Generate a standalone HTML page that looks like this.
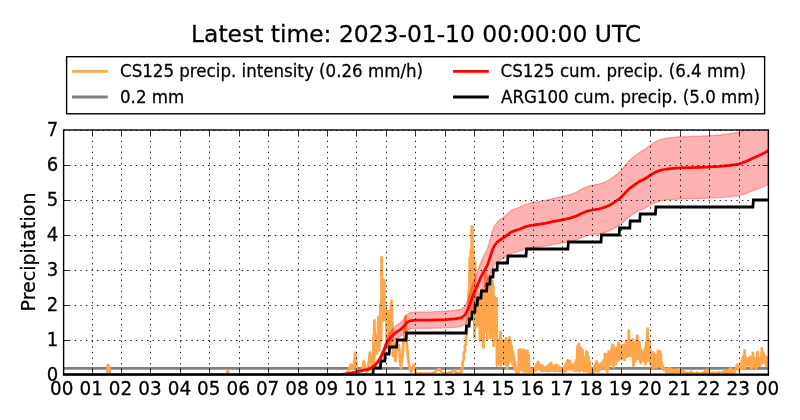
<!DOCTYPE html>
<html><head><meta charset="utf-8"><title>Precipitation</title>
<style>html,body{margin:0;padding:0;background:#fff;overflow:hidden}svg{display:block;will-change:transform}</style>
</head><body>
<svg width="800" height="420" viewBox="0 0 800 420">
<defs><clipPath id="ax"><rect x="63.6" y="130.0" width="704.8" height="245.0"/></clipPath></defs>
<rect width="800" height="420" fill="#fff"/>
<g clip-path="url(#ax)" fill="none" stroke-linejoin="round">
<line x1="63.6" x2="768.4" y1="368.4" y2="368.4" stroke="#808080" stroke-width="2.9"/>
<polyline points="63.6,374.6 107.3,374.6 108.0,364.8 109.2,367.5 110.0,374.6 226.8,374.6 227.8,370.8 228.8,374.6 344.0,374.6 346.0,374.0 349.0,370.0 350.9,364.5 352.5,369.0 353.8,366.0 355.3,352.7 356.8,370.0 358.0,372.0 361.0,371.5 362.5,368.0 363.8,361.1 365.0,366.0 366.5,372.0 368.0,371.0 369.0,360.0 370.0,352.7 371.0,358.0 372.0,366.0 372.3,357.9 372.7,368.2 373.0,369.0 373.7,335.0 374.1,368.0 374.4,320.4 375.0,353.1 375.4,335.5 375.9,352.5 376.3,343.6 376.7,353.5 377.1,347.5 377.5,351.8 378.0,328.9 378.4,317.0 379.0,349.9 379.4,330.0 379.9,345.7 380.5,304.5 381.1,340.6 381.6,257.4 382.2,320.2 382.5,289.5 383.1,320.9 383.6,320.1 384.0,317.8 384.3,280.4 384.8,319.7 385.4,308.0 385.8,319.5 386.3,311.0 386.9,344.7 387.3,311.8 387.8,347.8 388.2,311.3 388.6,343.3 389.0,311.6 389.5,347.8 390.0,312.8 390.5,343.6 391.0,305.5 391.6,300.9 391.9,347.9 392.5,322.5 393.0,356.0 393.5,341.5 394.0,352.8 394.5,346.8 395.1,357.5 395.6,361.3 396.1,346.5 396.8,350.5 397.2,346.4 398.0,346.0 399.0,345.0 400.0,360.0 400.8,368.0 402.5,355.0 404.0,338.0 405.6,316.3 406.5,340.0 407.5,352.0 409.0,365.0 411.0,372.0 412.3,369.0 413.5,364.9 414.8,369.0 416.0,373.5 432.0,373.7 435.0,372.0 437.5,370.0 439.0,368.9 440.5,370.5 442.0,372.5 444.0,373.7 447.0,373.7 449.0,372.5 450.5,373.0 452.0,371.5 454.5,370.4 456.0,372.5 457.5,373.5 459.0,373.5 460.1,373.5 461.1,372.5 461.6,369.0 462.8,367.5 462.6,362.0 463.9,359.0 463.7,353.0 465.1,351.0 464.8,346.0 466.1,344.0 465.8,338.0 467.0,333.0 466.7,326.0 467.9,319.0 467.6,311.0 468.8,303.0 468.5,297.0 468.9,290.0 469.3,300.0 469.8,258.0 470.3,310.0 470.8,250.0 471.3,296.0 471.8,226.4 472.5,227.2 472.9,290.0 473.3,250.0 473.7,316.0 474.2,262.0 474.5,337.6 474.9,262.0 475.4,320.0 475.8,300.0 476.3,327.0 476.8,300.5 477.4,323.6 477.8,301.8 478.2,324.9 478.7,300.8 479.1,321.5 479.6,298.9 480.0,340.5 480.5,293.8 480.9,338.3 481.4,291.2 481.8,338.5 482.3,290.6 483.0,334.1 483.5,347.6 484.0,294.1 484.6,331.7 485.1,287.5 485.5,272.4 486.1,331.6 486.7,278.9 487.3,339.3 487.9,277.8 488.4,328.1 488.8,278.8 489.2,331.2 489.8,290.0 490.2,277.9 490.5,338.3 490.9,283.8 491.3,336.3 491.8,283.9 492.1,328.3 492.5,280.9 492.9,335.5 493.2,286.5 493.5,346.0 493.7,297.5 494.1,339.0 494.7,297.2 495.2,339.2 495.6,301.8 496.0,333.5 496.5,298.4 497.0,365.6 497.3,340.7 497.9,360.2 498.6,340.2 499.1,363.7 499.6,339.8 499.9,364.8 500.5,332.0 500.8,365.5 501.2,341.2 501.8,362.1 502.2,340.2 502.6,359.9 503.2,340.4 503.7,360.1 504.1,342.0 504.6,364.0 505.0,340.7 505.5,364.1 506.0,338.5 506.7,366.5 507.0,368.6 507.3,341.7 507.7,365.3 508.2,340.2 508.6,363.4 509.2,340.5 509.5,337.5 510.3,360.9 510.7,340.8 511.1,360.2 511.7,346.0 512.4,363.5 513.0,352.2 513.6,365.8 514.1,357.5 514.7,368.3 515.1,362.1 515.6,370.5 516.1,367.3 516.5,372.5 516.8,371.2 517.5,373.5 518.5,373.0 519.0,349.9 519.4,369.2 519.9,349.7 520.5,370.0 521.0,349.8 521.4,368.0 521.9,350.4 522.4,368.4 523.0,351.1 523.4,371.3 523.9,350.0 524.4,368.0 524.8,350.8 525.4,372.1 525.9,353.5 526.2,350.9 527.0,370.7 527.6,351.1 528.1,371.6 528.6,355.0 529.2,369.0 529.8,371.8 530.3,369.4 531.0,371.9 531.4,369.9 531.9,371.7 532.5,370.3 532.9,371.7 533.5,369.7 534.1,371.2 534.5,368.2 535.2,370.7 535.6,366.5 536.1,370.1 536.8,364.1 537.4,368.1 537.8,362.4 538.0,361.9 538.3,368.2 538.8,363.3 539.2,369.2 539.6,364.8 540.1,369.2 540.6,365.3 541.0,370.2 541.5,365.6 542.0,370.4 542.3,365.9 542.8,370.9 543.3,366.3 543.8,370.9 544.2,367.3 544.8,370.7 545.4,367.9 546.1,370.4 546.5,367.6 546.9,370.7 547.2,366.5 547.8,370.9 548.3,365.7 548.7,370.7 549.1,364.9 549.8,370.8 550.3,363.9 550.8,370.3 551.2,362.9 551.8,369.9 552.3,365.2 552.9,370.7 553.3,366.3 553.6,370.7 554.2,366.2 554.7,370.9 555.0,365.5 555.7,370.9 556.0,364.9 556.8,370.1 557.2,365.3 557.8,370.7 558.1,366.0 558.7,370.5 559.2,367.4 559.7,371.1 560.2,368.6 560.8,371.1 561.3,369.0 561.7,370.9 562.2,369.5 562.6,371.0 563.0,368.8 563.4,371.4 563.7,368.0 564.1,370.6 564.6,366.8 565.0,371.4 565.6,365.0 566.0,371.0 566.5,362.9 566.9,369.0 567.5,360.4 567.7,368.7 568.2,361.5 568.5,368.2 569.1,361.0 569.6,369.5 570.0,361.1 570.5,368.9 571.1,364.0 571.5,368.9 572.1,365.7 572.6,369.6 573.1,365.3 573.7,370.0 574.2,364.5 574.7,370.8 575.2,362.8 575.9,370.6 576.3,360.2 576.9,368.9 577.5,346.5 578.0,370.7 578.5,345.2 579.0,343.9 579.3,368.1 579.7,347.7 580.1,371.0 580.7,347.8 581.1,369.2 581.5,350.0 581.9,370.0 582.5,350.0 583.1,369.9 583.6,358.4 584.1,371.2 584.5,358.9 584.9,369.4 585.4,357.4 585.8,369.1 586.3,353.5 586.5,351.4 586.7,371.4 587.3,352.3 588.0,368.6 588.5,356.6 588.9,371.7 589.6,361.9 590.0,372.0 590.5,368.2 590.8,372.6 591.3,371.7 591.8,372.9 592.0,373.0 592.3,372.7 592.7,373.4 593.2,372.6 593.5,372.2 594.0,369.2 594.3,371.3 594.8,365.4 595.2,370.4 595.5,364.1 596.0,370.7 596.5,361.4 596.9,371.2 597.4,363.4 598.0,371.1 598.6,364.9 599.1,371.0 599.7,366.0 600.2,368.0 600.6,363.9 601.3,367.3 601.7,363.1 602.3,367.9 602.8,362.6 603.2,367.4 603.8,359.9 604.4,365.6 605.0,353.9 605.5,368.2 606.1,355.2 606.5,369.9 607.0,356.8 607.2,372.1 607.5,354.1 608.1,369.2 608.7,351.3 609.3,365.3 609.8,352.0 610.4,363.8 611.0,351.4 611.5,363.1 611.9,349.0 612.5,344.9 613.2,365.6 613.5,367.1 614.1,346.7 614.7,362.0 615.2,348.8 615.7,363.9 616.3,350.2 616.8,361.6 617.1,348.0 617.7,360.4 618.3,343.9 618.5,342.9 618.8,360.1 619.3,344.8 619.9,357.8 620.2,346.9 620.8,358.5 621.2,346.8 621.6,358.5 622.0,345.6 622.5,344.9 623.0,357.3 623.6,348.0 624.2,358.9 624.5,360.1 624.7,345.2 625.2,358.0 625.7,342.7 626.2,355.3 626.8,340.9 627.3,356.4 627.9,341.1 628.3,356.1 628.8,330.4 629.1,351.9 629.7,339.9 630.1,349.4 630.6,340.9 631.0,355.7 631.3,340.7 631.8,356.0 632.3,340.5 632.8,339.4 633.5,365.6 633.9,342.8 634.4,360.1 634.9,342.7 635.3,361.5 635.7,343.8 636.4,358.6 636.8,339.2 637.3,335.7 638.0,355.9 638.4,341.8 638.9,359.2 639.5,342.4 640.1,359.9 640.5,363.1 641.0,350.0 641.4,360.6 642.1,352.6 642.5,361.1 643.0,352.6 643.4,360.4 643.9,354.3 644.6,360.4 644.9,348.7 645.5,364.1 646.0,342.5 646.7,361.3 647.2,336.4 647.8,328.6 648.3,357.5 648.8,338.8 649.1,360.3 649.5,343.0 650.0,362.0 650.4,349.2 650.9,364.3 651.3,352.1 651.7,365.8 652.2,352.4 652.8,365.0 653.0,367.6 653.7,352.9 654.3,367.0 654.7,355.2 655.3,367.0 655.9,355.7 656.5,367.4 656.9,355.6 657.4,366.2 658.0,350.9 658.5,363.7 659.0,352.6 659.5,363.6 660.0,351.4 660.4,366.7 660.8,353.8 661.2,366.1 661.8,362.5 662.2,367.9 662.8,366.1 663.3,369.1 663.7,367.9 664.2,370.2 664.6,369.4 665.5,369.5 666.2,372.0 666.9,370.1 667.3,371.3 668.1,368.8 668.6,372.3 669.2,368.8 669.5,368.0 669.8,371.7 670.5,369.1 671.0,372.5 671.5,369.2 672.0,371.7 672.4,370.5 673.2,372.7 673.8,370.5 674.3,371.9 674.9,369.9 675.7,371.7 676.3,369.7 676.8,372.0 677.5,370.1 678.2,371.9 679.0,369.0 679.4,372.4 680.0,370.1 680.7,372.6 681.4,371.0 682.2,373.5 682.6,371.4 683.1,374.0 683.6,371.1 684.1,373.8 684.9,372.2 685.5,374.4 686.2,372.9 686.8,374.0 687.5,373.1 688.1,374.5 688.6,373.1 689.3,374.6 690.1,372.4 690.5,374.3 691.2,372.0 691.5,371.8 691.8,374.2 692.3,372.9 692.9,374.7 693.3,373.5 693.8,374.7 694.3,373.8 695.0,374.3 695.6,373.3 696.1,374.7 696.6,373.0 697.0,372.4 697.8,374.5 698.2,373.6 698.8,374.7 699.3,373.8 700.0,374.8 700.6,373.9 701.0,374.3 701.5,373.5 702.0,374.6 702.7,373.2 703.3,374.2 703.8,372.8 704.2,373.5 704.9,371.1 705.5,373.4 706.0,371.9 706.5,374.7 707.0,369.6 707.3,374.1 707.8,371.5 708.5,374.5 709.0,372.1 709.6,374.4 710.3,372.9 711.1,374.7 711.6,373.1 712.1,374.0 712.8,372.9 713.3,374.6 713.7,373.2 714.5,374.5 715.0,372.8 715.8,374.6 716.3,372.8 717.1,374.0 717.7,373.2 718.1,374.0 718.6,372.6 719.2,374.0 719.8,372.4 720.6,374.2 721.0,372.7 721.7,374.3 722.2,372.8 722.8,374.0 723.3,372.1 723.8,373.3 724.4,370.8 725.2,372.8 725.6,371.1 726.2,373.7 726.9,371.1 727.7,373.8 728.2,371.2 728.7,373.0 729.4,369.4 730.2,372.3 730.5,368.0 730.8,373.0 731.2,369.2 732.0,372.6 732.5,370.5 733.3,372.5 733.9,370.6 734.7,372.2 735.1,370.9 736.2,368.0 737.1,364.7 738.0,368.0 739.0,370.0 740.2,367.0 741.0,363.6 741.5,368.6 742.1,359.9 742.5,368.0 742.9,357.2 743.2,366.2 743.6,355.5 744.2,366.0 744.6,350.4 745.1,368.1 745.8,357.4 746.2,365.5 746.6,358.9 747.1,364.1 747.5,358.8 747.8,365.0 748.3,358.5 748.7,365.2 749.1,358.1 749.5,365.3 750.1,358.1 750.5,357.0 751.0,366.6 751.5,369.0 752.0,359.6 752.4,367.1 752.9,352.8 753.5,365.4 753.9,357.7 754.2,365.4 754.8,361.0 755.4,366.1 756.0,368.6 756.5,358.7 756.9,367.0 757.2,355.5 757.6,351.9 758.3,365.1 758.8,358.2 759.3,365.6 759.8,359.5 760.4,365.3 761.0,356.4 761.4,363.1 761.9,348.5 762.4,363.3 762.9,352.4 763.4,362.2 763.8,354.7 764.2,362.7 764.7,356.3 765.1,362.6 765.6,357.1 766.2,363.6 766.7,366.0 767.0,357.4 767.6,364.6 768.1,357.0 768.5,366.0" stroke="#ffa64d" stroke-width="2.78"/>
<polygon points="63.6,374.8 330.0,374.8 340.0,374.5 346.2,373.9 355.0,371.6 362.0,369.9 367.5,368.6 371.0,366.9 373.8,364.9 377.0,361.2 380.0,356.5 383.9,346.9 386.3,339.4 387.8,336.2 390.0,332.7 391.5,330.5 393.4,328.5 396.4,325.6 400.6,322.6 403.8,319.0 406.9,314.7 410.0,312.7 415.6,312.0 430.0,311.9 445.0,311.3 455.0,310.5 461.2,309.2 465.0,306.0 467.5,300.2 470.0,293.0 472.5,284.7 475.0,278.4 478.1,270.0 481.2,261.6 484.4,254.9 487.5,248.5 490.0,239.9 492.5,231.0 494.4,226.2 496.9,222.6 500.0,219.8 503.8,216.9 508.1,213.3 511.2,210.6 515.0,208.9 520.0,207.1 525.0,204.7 530.0,203.2 533.8,202.5 540.0,201.6 546.2,200.3 552.5,198.6 562.5,196.5 570.0,194.6 576.2,192.4 581.2,189.3 587.5,186.4 592.5,185.3 598.8,184.1 605.0,182.1 610.0,179.5 615.0,175.9 620.0,171.9 625.0,165.8 630.0,160.1 635.0,155.8 640.0,152.2 645.0,149.3 650.6,145.0 656.2,141.4 661.2,139.3 667.5,138.1 673.8,137.4 680.0,136.8 690.0,136.5 700.0,136.1 710.0,135.7 720.0,135.0 730.0,133.8 740.0,132.1 745.0,129.9 750.0,127.1 755.0,124.6 760.0,122.0 765.0,119.1 768.3,117.1 768.3,184.3 765.0,185.9 760.0,188.0 755.0,189.9 750.0,191.7 745.0,193.9 740.0,195.4 730.0,196.8 720.0,197.6 710.0,198.1 700.0,198.5 690.0,198.7 680.0,199.0 673.8,199.4 667.5,199.9 661.2,200.8 656.2,202.4 650.6,205.0 645.0,208.2 640.0,210.3 635.0,213.0 630.0,216.1 625.0,220.4 620.0,224.9 615.0,227.9 610.0,230.5 605.0,232.4 598.8,233.9 592.5,234.8 587.5,235.6 581.2,237.7 576.2,240.1 570.0,241.6 562.5,243.0 552.5,244.6 546.2,245.9 540.0,246.8 533.8,247.5 530.0,248.0 525.0,249.1 520.0,250.9 515.0,252.3 511.2,253.4 508.1,255.5 503.8,258.1 500.0,260.2 496.9,262.4 494.4,265.0 492.5,268.6 490.0,275.1 487.5,281.5 484.4,286.3 481.2,291.2 478.1,297.4 475.0,303.6 472.5,308.3 470.0,314.4 467.5,319.8 465.0,324.0 461.2,326.4 455.0,327.3 445.0,327.9 430.0,328.3 415.6,328.4 410.0,328.9 406.9,330.5 403.8,333.6 400.6,336.2 396.4,338.4 393.4,340.7 391.5,342.1 390.0,343.7 387.8,346.4 386.3,348.6 383.9,354.3 380.0,361.3 377.0,364.8 373.8,367.5 371.0,369.1 367.5,370.2 362.0,371.3 355.0,372.4 346.2,374.1 340.0,374.7 330.0,374.8 63.6,374.8" fill="#ff0000" fill-opacity="0.3" stroke="#ff0000" stroke-opacity="0.3" stroke-width="1.39"/>
<polyline points="63.6,375.0 372.9,375.0 373.4,368.0 380.4,368.0 380.9,361.0 384.8,361.0 385.2,354.0 389.1,354.0 389.6,347.0 396.6,347.0 397.1,340.0 406.0,340.0 406.5,333.0 466.0,333.0 466.5,326.0 469.1,326.0 469.6,319.0 471.6,319.0 472.1,312.0 474.8,312.0 475.2,305.0 477.2,305.0 477.8,298.0 481.0,298.0 481.5,291.0 486.6,291.0 487.1,284.0 489.8,284.0 490.2,277.0 492.9,277.0 493.4,270.0 497.0,270.0 497.5,263.0 507.5,263.0 508.0,256.0 526.0,256.0 526.5,249.0 567.9,249.0 568.4,242.0 601.0,242.0 601.5,235.0 619.1,235.0 619.6,228.0 629.8,228.0 630.2,221.0 639.8,221.0 640.2,214.0 655.4,214.0 655.9,207.0 752.9,207.0 753.4,200.0 768.3,200.0" stroke="#000" stroke-width="2.78" stroke-linejoin="miter"/>
<polyline points="63.6,374.8 330.0,374.8 340.0,374.6 346.2,374.0 355.0,372.0 362.0,370.6 367.5,369.4 371.0,368.0 373.8,366.2 377.0,363.0 380.0,358.9 383.9,350.6 386.3,344.0 387.8,341.3 390.0,338.2 391.5,336.3 393.4,334.6 396.4,332.0 400.6,329.4 403.8,326.3 406.9,322.6 410.0,320.8 415.6,320.2 430.0,320.1 445.0,319.6 455.0,318.9 461.2,317.8 465.0,315.0 467.5,310.0 470.0,303.7 472.5,296.5 475.0,291.0 478.1,283.7 481.2,276.4 484.4,270.6 487.5,265.0 490.0,257.5 492.5,249.8 494.4,245.6 496.9,242.5 500.0,240.0 503.8,237.5 508.1,234.4 511.2,232.0 515.0,230.6 520.0,229.0 525.0,226.9 530.0,225.6 533.8,225.0 540.0,224.2 546.2,223.1 552.5,221.6 562.5,219.8 570.0,218.1 576.2,216.2 581.2,213.5 587.5,211.0 592.5,210.0 598.8,209.0 605.0,207.2 610.0,205.0 615.0,201.9 620.0,198.4 625.0,193.1 630.0,188.1 635.0,184.4 640.0,181.2 645.0,178.8 650.6,175.0 656.2,171.9 661.2,170.0 667.5,169.0 673.8,168.4 680.0,167.9 690.0,167.6 700.0,167.3 710.0,166.9 720.0,166.3 730.0,165.3 740.0,163.8 745.0,161.9 750.0,159.4 755.0,157.2 760.0,155.0 765.0,152.5 768.3,150.7" stroke="#ff0000" stroke-width="2.78"/>
</g>
<g stroke="#000" stroke-width="0.9" stroke-dasharray="1.39 4.17" fill="none">
<line x1="92.5" x2="92.5" y1="375.55" y2="130.0"/>
<line x1="121.5" x2="121.5" y1="375.55" y2="130.0"/>
<line x1="150.5" x2="150.5" y1="375.55" y2="130.0"/>
<line x1="180.5" x2="180.5" y1="375.55" y2="130.0"/>
<line x1="209.5" x2="209.5" y1="375.55" y2="130.0"/>
<line x1="239.5" x2="239.5" y1="375.55" y2="130.0"/>
<line x1="268.5" x2="268.5" y1="375.55" y2="130.0"/>
<line x1="298.5" x2="298.5" y1="375.55" y2="130.0"/>
<line x1="327.5" x2="327.5" y1="375.55" y2="130.0"/>
<line x1="356.5" x2="356.5" y1="375.55" y2="130.0"/>
<line x1="386.5" x2="386.5" y1="375.55" y2="130.0"/>
<line x1="415.5" x2="415.5" y1="375.55" y2="130.0"/>
<line x1="445.5" x2="445.5" y1="375.55" y2="130.0"/>
<line x1="474.5" x2="474.5" y1="375.55" y2="130.0"/>
<line x1="503.5" x2="503.5" y1="375.55" y2="130.0"/>
<line x1="533.5" x2="533.5" y1="375.55" y2="130.0"/>
<line x1="562.5" x2="562.5" y1="375.55" y2="130.0"/>
<line x1="592.5" x2="592.5" y1="375.55" y2="130.0"/>
<line x1="621.5" x2="621.5" y1="375.55" y2="130.0"/>
<line x1="650.5" x2="650.5" y1="375.55" y2="130.0"/>
<line x1="680.5" x2="680.5" y1="375.55" y2="130.0"/>
<line x1="709.5" x2="709.5" y1="375.55" y2="130.0"/>
<line x1="739.5" x2="739.5" y1="375.55" y2="130.0"/>
<line x1="63.6" x2="768.4" y1="340.5" y2="340.5"/>
<line x1="63.6" x2="768.4" y1="305.5" y2="305.5"/>
<line x1="63.6" x2="768.4" y1="270.5" y2="270.5"/>
<line x1="63.6" x2="768.4" y1="235.5" y2="235.5"/>
<line x1="63.6" x2="768.4" y1="200.5" y2="200.5"/>
<line x1="63.6" x2="768.4" y1="165.5" y2="165.5"/>
<line x1="63.6" x2="768.4" y1="130.5" y2="130.5"/>
</g>
<g stroke="#000" stroke-width="0.8" fill="none">
<line x1="92.5" x2="92.5" y1="375.0" y2="369.4"/>
<line x1="92.5" x2="92.5" y1="130.0" y2="135.6"/>
<line x1="121.5" x2="121.5" y1="375.0" y2="369.4"/>
<line x1="121.5" x2="121.5" y1="130.0" y2="135.6"/>
<line x1="150.5" x2="150.5" y1="375.0" y2="369.4"/>
<line x1="150.5" x2="150.5" y1="130.0" y2="135.6"/>
<line x1="180.5" x2="180.5" y1="375.0" y2="369.4"/>
<line x1="180.5" x2="180.5" y1="130.0" y2="135.6"/>
<line x1="209.5" x2="209.5" y1="375.0" y2="369.4"/>
<line x1="209.5" x2="209.5" y1="130.0" y2="135.6"/>
<line x1="239.5" x2="239.5" y1="375.0" y2="369.4"/>
<line x1="239.5" x2="239.5" y1="130.0" y2="135.6"/>
<line x1="268.5" x2="268.5" y1="375.0" y2="369.4"/>
<line x1="268.5" x2="268.5" y1="130.0" y2="135.6"/>
<line x1="298.5" x2="298.5" y1="375.0" y2="369.4"/>
<line x1="298.5" x2="298.5" y1="130.0" y2="135.6"/>
<line x1="327.5" x2="327.5" y1="375.0" y2="369.4"/>
<line x1="327.5" x2="327.5" y1="130.0" y2="135.6"/>
<line x1="356.5" x2="356.5" y1="375.0" y2="369.4"/>
<line x1="356.5" x2="356.5" y1="130.0" y2="135.6"/>
<line x1="386.5" x2="386.5" y1="375.0" y2="369.4"/>
<line x1="386.5" x2="386.5" y1="130.0" y2="135.6"/>
<line x1="415.5" x2="415.5" y1="375.0" y2="369.4"/>
<line x1="415.5" x2="415.5" y1="130.0" y2="135.6"/>
<line x1="445.5" x2="445.5" y1="375.0" y2="369.4"/>
<line x1="445.5" x2="445.5" y1="130.0" y2="135.6"/>
<line x1="474.5" x2="474.5" y1="375.0" y2="369.4"/>
<line x1="474.5" x2="474.5" y1="130.0" y2="135.6"/>
<line x1="503.5" x2="503.5" y1="375.0" y2="369.4"/>
<line x1="503.5" x2="503.5" y1="130.0" y2="135.6"/>
<line x1="533.5" x2="533.5" y1="375.0" y2="369.4"/>
<line x1="533.5" x2="533.5" y1="130.0" y2="135.6"/>
<line x1="562.5" x2="562.5" y1="375.0" y2="369.4"/>
<line x1="562.5" x2="562.5" y1="130.0" y2="135.6"/>
<line x1="592.5" x2="592.5" y1="375.0" y2="369.4"/>
<line x1="592.5" x2="592.5" y1="130.0" y2="135.6"/>
<line x1="621.5" x2="621.5" y1="375.0" y2="369.4"/>
<line x1="621.5" x2="621.5" y1="130.0" y2="135.6"/>
<line x1="650.5" x2="650.5" y1="375.0" y2="369.4"/>
<line x1="650.5" x2="650.5" y1="130.0" y2="135.6"/>
<line x1="680.5" x2="680.5" y1="375.0" y2="369.4"/>
<line x1="680.5" x2="680.5" y1="130.0" y2="135.6"/>
<line x1="709.5" x2="709.5" y1="375.0" y2="369.4"/>
<line x1="709.5" x2="709.5" y1="130.0" y2="135.6"/>
<line x1="739.5" x2="739.5" y1="375.0" y2="369.4"/>
<line x1="739.5" x2="739.5" y1="130.0" y2="135.6"/>
<line x1="63.6" x2="69.2" y1="340.5" y2="340.5"/>
<line x1="768.4" x2="762.8" y1="340.5" y2="340.5"/>
<line x1="63.6" x2="69.2" y1="305.5" y2="305.5"/>
<line x1="768.4" x2="762.8" y1="305.5" y2="305.5"/>
<line x1="63.6" x2="69.2" y1="270.5" y2="270.5"/>
<line x1="768.4" x2="762.8" y1="270.5" y2="270.5"/>
<line x1="63.6" x2="69.2" y1="235.5" y2="235.5"/>
<line x1="768.4" x2="762.8" y1="235.5" y2="235.5"/>
<line x1="63.6" x2="69.2" y1="200.5" y2="200.5"/>
<line x1="768.4" x2="762.8" y1="200.5" y2="200.5"/>
<line x1="63.6" x2="69.2" y1="165.5" y2="165.5"/>
<line x1="768.4" x2="762.8" y1="165.5" y2="165.5"/>
</g>
<rect x="63.6" y="130.0" width="704.8" height="245.0" fill="none" stroke="#000" stroke-width="1.39"/>
<line x1="62.9" x2="769.1" y1="374.6" y2="374.6" stroke="#000" stroke-width="2.0"/>
<text font-family="DejaVu Sans, Liberation Sans, sans-serif" font-size="18.40px" fill="#000" stroke="#000" stroke-width="0.25" text-anchor="middle" transform="translate(61.75,394.90) scale(1.000,1.040)">00</text>
<text font-family="DejaVu Sans, Liberation Sans, sans-serif" font-size="18.40px" fill="#000" stroke="#000" stroke-width="0.25" text-anchor="middle" transform="translate(91.16,394.90) scale(1.000,1.040)">01</text>
<text font-family="DejaVu Sans, Liberation Sans, sans-serif" font-size="18.40px" fill="#000" stroke="#000" stroke-width="0.25" text-anchor="middle" transform="translate(120.57,394.90) scale(1.000,1.040)">02</text>
<text font-family="DejaVu Sans, Liberation Sans, sans-serif" font-size="18.40px" fill="#000" stroke="#000" stroke-width="0.25" text-anchor="middle" transform="translate(149.98,394.90) scale(1.000,1.040)">03</text>
<text font-family="DejaVu Sans, Liberation Sans, sans-serif" font-size="18.40px" fill="#000" stroke="#000" stroke-width="0.25" text-anchor="middle" transform="translate(179.39,394.90) scale(1.000,1.040)">04</text>
<text font-family="DejaVu Sans, Liberation Sans, sans-serif" font-size="18.40px" fill="#000" stroke="#000" stroke-width="0.25" text-anchor="middle" transform="translate(208.79,394.90) scale(1.000,1.040)">05</text>
<text font-family="DejaVu Sans, Liberation Sans, sans-serif" font-size="18.40px" fill="#000" stroke="#000" stroke-width="0.25" text-anchor="middle" transform="translate(238.20,394.90) scale(1.000,1.040)">06</text>
<text font-family="DejaVu Sans, Liberation Sans, sans-serif" font-size="18.40px" fill="#000" stroke="#000" stroke-width="0.25" text-anchor="middle" transform="translate(267.61,394.90) scale(1.000,1.040)">07</text>
<text font-family="DejaVu Sans, Liberation Sans, sans-serif" font-size="18.40px" fill="#000" stroke="#000" stroke-width="0.25" text-anchor="middle" transform="translate(297.02,394.90) scale(1.000,1.040)">08</text>
<text font-family="DejaVu Sans, Liberation Sans, sans-serif" font-size="18.40px" fill="#000" stroke="#000" stroke-width="0.25" text-anchor="middle" transform="translate(326.43,394.90) scale(1.000,1.040)">09</text>
<text font-family="DejaVu Sans, Liberation Sans, sans-serif" font-size="18.40px" fill="#000" stroke="#000" stroke-width="0.25" text-anchor="middle" transform="translate(355.84,394.90) scale(1.000,1.040)">10</text>
<text font-family="DejaVu Sans, Liberation Sans, sans-serif" font-size="18.40px" fill="#000" stroke="#000" stroke-width="0.25" text-anchor="middle" transform="translate(385.25,394.90) scale(1.000,1.040)">11</text>
<text font-family="DejaVu Sans, Liberation Sans, sans-serif" font-size="18.40px" fill="#000" stroke="#000" stroke-width="0.25" text-anchor="middle" transform="translate(414.66,394.90) scale(1.000,1.040)">12</text>
<text font-family="DejaVu Sans, Liberation Sans, sans-serif" font-size="18.40px" fill="#000" stroke="#000" stroke-width="0.25" text-anchor="middle" transform="translate(444.07,394.90) scale(1.000,1.040)">13</text>
<text font-family="DejaVu Sans, Liberation Sans, sans-serif" font-size="18.40px" fill="#000" stroke="#000" stroke-width="0.25" text-anchor="middle" transform="translate(473.48,394.90) scale(1.000,1.040)">14</text>
<text font-family="DejaVu Sans, Liberation Sans, sans-serif" font-size="18.40px" fill="#000" stroke="#000" stroke-width="0.25" text-anchor="middle" transform="translate(502.88,394.90) scale(1.000,1.040)">15</text>
<text font-family="DejaVu Sans, Liberation Sans, sans-serif" font-size="18.40px" fill="#000" stroke="#000" stroke-width="0.25" text-anchor="middle" transform="translate(532.29,394.90) scale(1.000,1.040)">16</text>
<text font-family="DejaVu Sans, Liberation Sans, sans-serif" font-size="18.40px" fill="#000" stroke="#000" stroke-width="0.25" text-anchor="middle" transform="translate(561.70,394.90) scale(1.000,1.040)">17</text>
<text font-family="DejaVu Sans, Liberation Sans, sans-serif" font-size="18.40px" fill="#000" stroke="#000" stroke-width="0.25" text-anchor="middle" transform="translate(591.11,394.90) scale(1.000,1.040)">18</text>
<text font-family="DejaVu Sans, Liberation Sans, sans-serif" font-size="18.40px" fill="#000" stroke="#000" stroke-width="0.25" text-anchor="middle" transform="translate(620.52,394.90) scale(1.000,1.040)">19</text>
<text font-family="DejaVu Sans, Liberation Sans, sans-serif" font-size="18.40px" fill="#000" stroke="#000" stroke-width="0.25" text-anchor="middle" transform="translate(649.93,394.90) scale(1.000,1.040)">20</text>
<text font-family="DejaVu Sans, Liberation Sans, sans-serif" font-size="18.40px" fill="#000" stroke="#000" stroke-width="0.25" text-anchor="middle" transform="translate(679.34,394.90) scale(1.000,1.040)">21</text>
<text font-family="DejaVu Sans, Liberation Sans, sans-serif" font-size="18.40px" fill="#000" stroke="#000" stroke-width="0.25" text-anchor="middle" transform="translate(708.75,394.90) scale(1.000,1.040)">22</text>
<text font-family="DejaVu Sans, Liberation Sans, sans-serif" font-size="18.40px" fill="#000" stroke="#000" stroke-width="0.25" text-anchor="middle" transform="translate(738.16,394.90) scale(1.000,1.040)">23</text>
<text font-family="DejaVu Sans, Liberation Sans, sans-serif" font-size="18.40px" fill="#000" stroke="#000" stroke-width="0.25" text-anchor="middle" transform="translate(767.57,394.90) scale(1.000,1.040)">00</text>
<text font-family="DejaVu Sans, Liberation Sans, sans-serif" font-size="18.06px" fill="#000" stroke="#000" stroke-width="0.25" text-anchor="end" transform="translate(58.20,381.30) scale(1.000,1.060)">0</text>
<text font-family="DejaVu Sans, Liberation Sans, sans-serif" font-size="18.06px" fill="#000" stroke="#000" stroke-width="0.25" text-anchor="end" transform="translate(58.20,346.30) scale(1.000,1.060)">1</text>
<text font-family="DejaVu Sans, Liberation Sans, sans-serif" font-size="18.06px" fill="#000" stroke="#000" stroke-width="0.25" text-anchor="end" transform="translate(58.20,311.30) scale(1.000,1.060)">2</text>
<text font-family="DejaVu Sans, Liberation Sans, sans-serif" font-size="18.06px" fill="#000" stroke="#000" stroke-width="0.25" text-anchor="end" transform="translate(58.20,276.30) scale(1.000,1.060)">3</text>
<text font-family="DejaVu Sans, Liberation Sans, sans-serif" font-size="18.06px" fill="#000" stroke="#000" stroke-width="0.25" text-anchor="end" transform="translate(58.20,241.30) scale(1.000,1.060)">4</text>
<text font-family="DejaVu Sans, Liberation Sans, sans-serif" font-size="18.06px" fill="#000" stroke="#000" stroke-width="0.25" text-anchor="end" transform="translate(58.20,206.30) scale(1.000,1.060)">5</text>
<text font-family="DejaVu Sans, Liberation Sans, sans-serif" font-size="18.06px" fill="#000" stroke="#000" stroke-width="0.25" text-anchor="end" transform="translate(58.20,171.30) scale(1.000,1.060)">6</text>
<text font-family="DejaVu Sans, Liberation Sans, sans-serif" font-size="18.06px" fill="#000" stroke="#000" stroke-width="0.25" text-anchor="end" transform="translate(58.20,136.30) scale(1.000,1.060)">7</text>
<text font-family="DejaVu Sans, Liberation Sans, sans-serif" font-size="19.05px" fill="#000" stroke="#000" stroke-width="0.25" text-anchor="middle" transform="translate(34.9,252) rotate(-90)">Precipitation</text>
<text font-family="DejaVu Sans, Liberation Sans, sans-serif" font-size="23.40px" fill="#000" stroke="#000" stroke-width="0.25" text-anchor="middle" transform="translate(416.10,41.90) scale(1.000,1.020)">Latest time: 2023-01-10 00:00:00 UTC</text>
<rect x="66.6" y="56.7" width="698" height="57.1" fill="#fff" stroke="#000" stroke-width="1.39"/>
<g fill="none" stroke-width="2.78">
<line x1="72" x2="107.8" y1="71.4" y2="71.4" stroke="#ffa64d"/>
<line x1="72" x2="107.8" y1="97" y2="97" stroke="#808080"/>
<line x1="453" x2="488.8" y1="71.4" y2="71.4" stroke="#ff0000"/>
<line x1="453" x2="488.8" y1="97" y2="97" stroke="#000"/>
</g>
<text font-family="DejaVu Sans, Liberation Sans, sans-serif" font-size="16.67px" fill="#000" stroke="#000" stroke-width="0.25" text-anchor="start" transform="translate(120.00,76.90) scale(1.000,1.070)">CS125 precip. intensity (0.26 mm/h)</text>
<text font-family="DejaVu Sans, Liberation Sans, sans-serif" font-size="16.67px" fill="#000" stroke="#000" stroke-width="0.25" text-anchor="start" transform="translate(120.00,103.00) scale(1.000,1.070)">0.2 mm</text>
<text font-family="DejaVu Sans, Liberation Sans, sans-serif" font-size="16.67px" fill="#000" stroke="#000" stroke-width="0.25" text-anchor="start" transform="translate(500.60,76.90) scale(1.000,1.070)">CS125 cum. precip. (6.4 mm)</text>
<text font-family="DejaVu Sans, Liberation Sans, sans-serif" font-size="16.67px" fill="#000" stroke="#000" stroke-width="0.25" text-anchor="start" transform="translate(501.00,103.00) scale(1.000,1.070)">ARG100 cum. precip. (5.0 mm)</text>
</svg>
</body></html>
